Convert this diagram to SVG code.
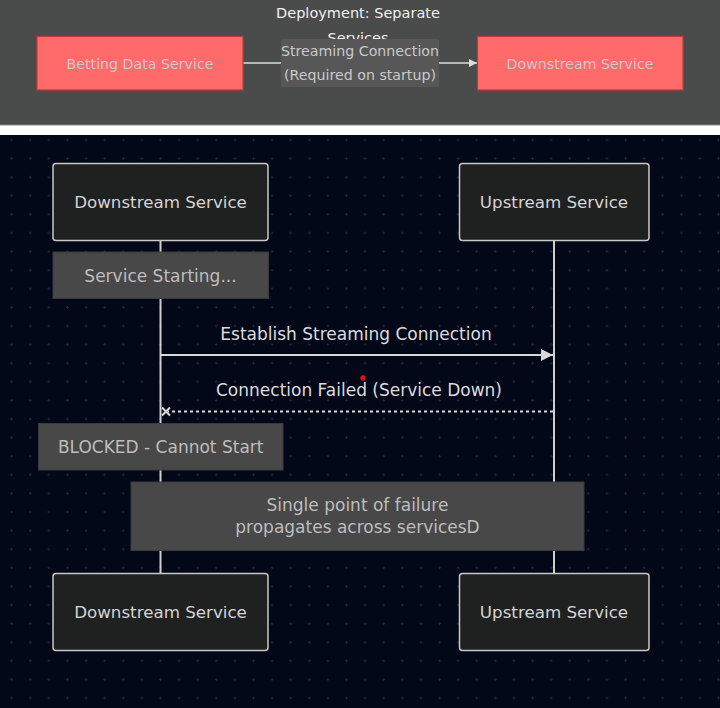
<svg xmlns="http://www.w3.org/2000/svg" width="720" height="708" viewBox="0 0 720 708">
<defs>
<style>
text{font-family:"DejaVu Sans","Liberation Sans",sans-serif;text-anchor:middle}
.panel{fill:#4a4b4b;stroke:#8a8a8a;stroke-width:1}
.svc{fill:#ff6b6b;stroke:#c23a3a;stroke-width:1.2}
.svct{fill:#cfc6c6;font-size:14.2px}
.lbl{fill:#575757}
.lblt{fill:#c9c9c9;font-size:14.2px}
.title{fill:#f0f0f0;font-size:14.5px}
.actor{fill:#1f2020;stroke:#c8c8c8;stroke-width:1.5}
.actt{fill:#d4d4d4;font-size:16.7px}
.life{stroke:#cfcfcf;stroke-width:2}
.note{fill:#484848;stroke:#3a3a3a;stroke-width:1}
.notet{fill:#bdbdbd;font-size:17px}
.msg{stroke:#d8d8d8;stroke-width:2;fill:none}
.msgt{fill:#dcdcdc;font-size:17px}
</style>
<pattern id="grid" patternUnits="userSpaceOnUse" x="2.4" y="130.7" width="18.6" height="18.6">
<path d="M7.8 9.3h3M9.3 7.8v3" stroke="#1f2433" stroke-width="1"/>
</pattern>
<marker id="arrow" viewBox="0 0 12 12" refX="12" refY="6" markerWidth="12" markerHeight="12" markerUnits="userSpaceOnUse" orient="auto">
<path d="M0 0L12 6L0 12z" fill="#d8d8d8"/>
</marker>
<marker id="arrowsm" viewBox="0 0 10 10" refX="10" refY="5" markerWidth="8" markerHeight="8" markerUnits="userSpaceOnUse" orient="auto">
<path d="M0 0L10 5L0 10z" fill="#dddddd"/>
</marker>
</defs>
<rect width="720" height="708" fill="#ffffff"/>
<!-- top flowchart panel -->
<rect class="panel" x="-1" y="-1" width="722" height="126"/>
<text class="title" x="358" y="18">Deployment: Separate</text>
<text class="title" x="358" y="43">Services</text>
<g id="connectors-top">
<line x1="243" y1="63" x2="477" y2="63" stroke="#dddddd" stroke-width="1.5" marker-end="url(#arrowsm)"/>
<g id="edge-label">
<rect class="lbl" x="281" y="39" width="158" height="48"/>
<text class="lblt" x="360" y="56">Streaming Connection</text>
<text class="lblt" x="360" y="80">(Required on startup)</text>
</g>
</g>
<g id="betting">
<rect class="svc" x="37" y="36.5" width="206" height="53.5"/>
<text class="svct" x="140" y="68.5">Betting Data Service</text>
</g>
<g id="downstream-flow">
<rect class="svc" x="477.5" y="36.5" width="205.5" height="53.5"/>
<text class="svct" x="580" y="68.5">Downstream Service</text>
</g>
<!-- sequence diagram -->
<rect x="0" y="135" width="720" height="573" fill="#030818"/>
<rect x="0" y="135" width="720" height="573" fill="url(#grid)"/>
<g id="lifelines">
<line class="life" x1="160.5" y1="241" x2="160.5" y2="573"/>
<line class="life" x1="554" y1="241" x2="554" y2="573"/>
</g>
<g id="actor-downstream-top">
<rect class="actor" x="53" y="163.5" width="215" height="77" rx="3"/>
<text class="actt" x="160.5" y="208">Downstream Service</text>
</g>
<g id="actor-upstream-top">
<rect class="actor" x="459.5" y="163.5" width="189.5" height="77" rx="3"/>
<text class="actt" x="554" y="208">Upstream Service</text>
</g>
<g id="note-starting">
<rect class="note" x="53" y="252" width="215.5" height="46.5"/>
<text class="notet" x="160.5" y="282">Service Starting...</text>
</g>
<g id="messages">
<text class="msgt" x="356" y="340">Establish Streaming Connection</text>
<line class="msg" x1="160.5" y1="355" x2="553" y2="355" marker-end="url(#arrow)"/>
<text class="msgt" x="359" y="396">Connection Failed (Service Down)</text>
<line class="msg" x1="553" y1="411.5" x2="168" y2="411.5" stroke-dasharray="3,3"/>
<path class="msg" d="M162 407.5l8 8M170 407.5l-8 8"/>
</g>
<circle cx="363" cy="378" r="2.7" fill="#e01010"/>
<g id="note-blocked">
<rect class="note" x="38.5" y="423.5" width="244.5" height="46.5"/>
<text class="notet" x="160.7" y="453">BLOCKED - Cannot Start</text>
</g>
<g id="note-spof">
<rect class="note" x="131" y="482" width="453" height="68.5"/>
<text class="notet" x="357.5" y="511">Single point of failure</text>
<text class="notet" x="357.5" y="533">propagates across servicesD</text>
</g>
<g id="actor-downstream-bottom">
<rect class="actor" x="53" y="573.5" width="215" height="77" rx="3"/>
<text class="actt" x="160.5" y="618">Downstream Service</text>
</g>
<g id="actor-upstream-bottom">
<rect class="actor" x="459.5" y="573.5" width="189.5" height="77" rx="3"/>
<text class="actt" x="554" y="618">Upstream Service</text>
</g>
</svg>
